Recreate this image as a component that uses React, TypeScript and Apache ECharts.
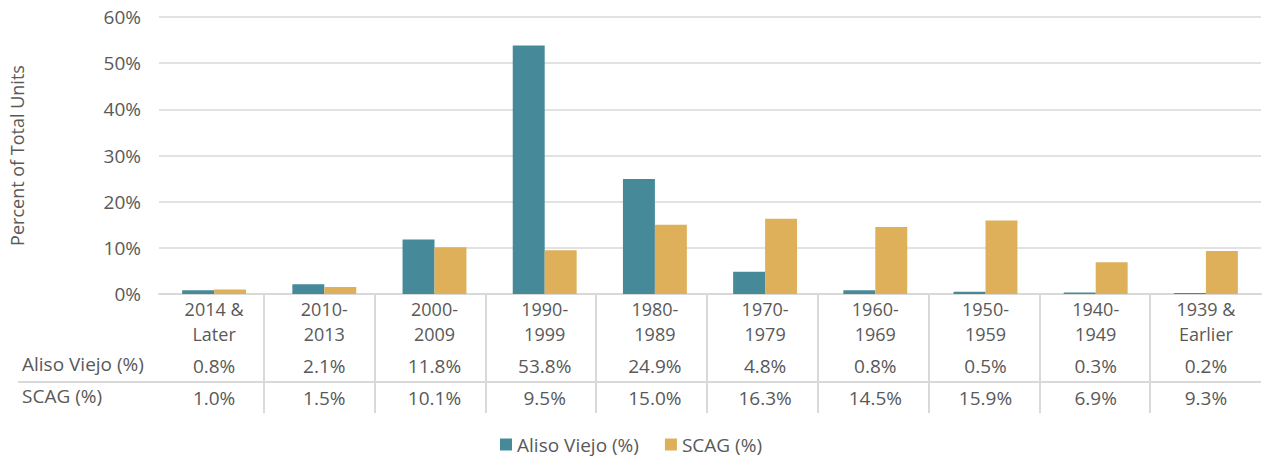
import React, { useEffect, useRef } from "react";
import * as echarts from "echarts";

const categories = [
  "2014 &\nLater",
  "2010-\n2013",
  "2000-\n2009",
  "1990-\n1999",
  "1980-\n1989",
  "1970-\n1979",
  "1960-\n1969",
  "1950-\n1959",
  "1940-\n1949",
  "1939 &\nEarlier",
];
const alisoViejo = [0.8, 2.1, 11.8, 53.8, 24.9, 4.8, 0.8, 0.5, 0.3, 0.2];
const scag = [1.0, 1.5, 10.1, 9.5, 15.0, 16.3, 14.5, 15.9, 6.9, 9.3];
const seriesNames = ["Aliso Viejo (%)", "SCAG (%)"];
const yTicks = { min: 0, max: 60, interval: 10 };

const FONT = "'Open Sans', sans-serif";
const FS = 19;
const TXT = "#595959";
const LINE = "#d9d9d9";
const TEAL = "#468A9A";
const GOLD = "#DEB05A";

export default function App() {
  const ref = useRef<HTMLDivElement>(null);
  useEffect(() => {
    document.body.style.margin = "0";
    if (!ref.current) return;
    const chart = echarts.init(ref.current, null, { renderer: "svg" });
    const tableAxis = (values: number[], offset: number) => ({
      type: "category",
      gridIndex: 0,
      data: categories,
      position: "bottom",
      offset,
      axisLine: { show: false },
      axisTick: { show: false },
      splitLine: { show: false },
      axisLabel: {
        interval: 0,
        margin: 0,
        verticalAlign: "middle",
        color: TXT,
        fontSize: FS,
        fontFamily: FONT,
        formatter: (_v: string, i: number) => values[i].toFixed(1) + "%",
      },
    });
    chart.setOption({
      animation: false,
      textStyle: { fontFamily: FONT },
      grid: [
        { left: 153, right: 1, top: 17, height: 277 },
        { left: 153, right: 1, top: 294, height: 119 },
      ],
      legend: {
        top: 430,
        left: "center",
        icon: "rect",
        itemWidth: 12,
        itemHeight: 12,
        itemGap: 26,
        textStyle: { color: TXT, fontSize: FS, fontFamily: FONT },
        data: seriesNames,
      },
      xAxis: [
        {
          type: "category",
          gridIndex: 0,
          data: categories,
          axisLine: { show: true, lineStyle: { color: LINE, width: 2 } },
          axisTick: { show: false },
          axisLabel: {
            interval: 0,
            margin: 2,
            color: TXT,
            fontSize: 18,
            lineHeight: 25,
            fontFamily: FONT,
          },
        },
        tableAxis(alisoViejo, 72),
        tableAxis(scag, 104),
        {
          type: "category",
          gridIndex: 1,
          data: categories,
          axisLine: { show: false },
          axisTick: { show: false },
          axisLabel: { show: false },
          splitLine: {
            show: true,
            showMinLine: false,
            showMaxLine: false,
            lineStyle: { color: LINE, width: 2 },
          },
        },
      ],
      yAxis: [
        {
          type: "value",
          gridIndex: 0,
          min: yTicks.min,
          max: yTicks.max,
          interval: yTicks.interval,
          name: "Percent of Total Units",
          nameLocation: "middle",
          nameGap: 133,
          nameTextStyle: { color: TXT, fontSize: 18, fontFamily: FONT },
          axisLine: { show: false },
          axisTick: { show: false },
          axisLabel: {
            margin: 18,
            color: TXT,
            fontSize: FS,
            fontFamily: FONT,
            formatter: "{value}%",
          },
          splitLine: { lineStyle: { color: LINE, width: 1.5 } },
        },
        { type: "value", gridIndex: 1, show: false, splitLine: { show: false } },
      ],
      graphic: [
        {
          type: "line",
          shape: { x1: 18, y1: 382, x2: 1261, y2: 382 },
          style: { stroke: LINE, lineWidth: 2 },
          silent: true,
        },
        {
          type: "text",
          left: 22,
          top: 354,
          style: { text: seriesNames[0], fill: TXT, fontSize: FS, fontFamily: FONT },
        },
        {
          type: "text",
          left: 22,
          top: 386,
          style: { text: seriesNames[1], fill: TXT, fontSize: FS, fontFamily: FONT },
        },
      ],
      series: [
        {
          name: seriesNames[0],
          type: "bar",
          data: alisoViejo,
          barWidth: "29%",
          barGap: "0%",
          itemStyle: { color: TEAL },
        },
        {
          name: seriesNames[1],
          type: "bar",
          data: scag,
          barWidth: "29%",
          barGap: "0%",
          itemStyle: { color: GOLD },
        },
      ],
    });
    return () => chart.dispose();
  }, []);
  return <div ref={ref} style={{ width: 1262, height: 457 }} />;
}
